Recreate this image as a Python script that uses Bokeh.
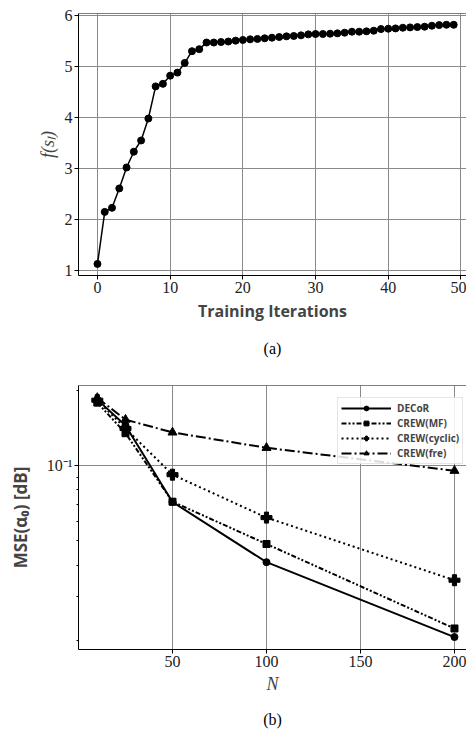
from bokeh.plotting import figure
from bokeh.layouts import column
from bokeh.models import Range1d, FixedTicker, Title, Legend, LegendItem, Span
from bokeh.embed import file_html
from bokeh.resources import INLINE

# ---------------- Panel (a) data ----------------
iterations = list(range(50))
f_values = [1.13, 2.15, 2.23, 2.61, 3.02, 3.33, 3.55, 3.98, 4.61, 4.66,
            4.82, 4.88, 5.07, 5.30, 5.34, 5.47, 5.47, 5.48, 5.49, 5.507,
            5.520, 5.533, 5.540, 5.553, 5.565, 5.578, 5.591, 5.598, 5.611, 5.630,
            5.637, 5.637, 5.643, 5.650, 5.663, 5.682, 5.682, 5.689, 5.702, 5.734,
            5.741, 5.747, 5.760, 5.767, 5.773, 5.780, 5.799, 5.812, 5.818, 5.818]
a_xticks = [0, 10, 20, 30, 40, 50]
a_yticks = [1, 2, 3, 4, 5, 6]

# ---------------- Panel (b) data ----------------
N_values = [10, 25, 50, 100, 200]
mse_decor = [0.184, 0.145, 0.0716, 0.0411, 0.0206]
mse_crew_mf = [0.179, 0.135, 0.0718, 0.0486, 0.0223]
mse_crew_cyclic = [0.183, 0.141, 0.0921, 0.0620, 0.0348]
mse_crew_fre = [0.187, 0.153, 0.136, 0.118, 0.0955]
b_xticks = [50, 100, 150, 200]
b_yticks = [0.1]
b_yminor = [0.02, 0.03, 0.04, 0.05, 0.06, 0.07, 0.08, 0.09, 0.2]
series_names = ["DECoR", "CREW(MF)", "CREW(cyclic)", "CREW(fre)"]

SERIF = "Liberation Serif"
SANS = "Open Sans"
GRID = "#8a8a8a"


def style_axes(p):
    for ax in (p.xaxis[0], p.yaxis[0]):
        ax.axis_line_color = "black"
        ax.axis_line_width = 1
        ax.major_tick_line_color = "black"
        ax.major_tick_out = 4
        ax.major_tick_in = 0
        ax.minor_tick_line_color = None
        ax.major_label_text_font = SERIF
        ax.major_label_text_font_size = "16px"
        ax.major_label_text_color = "#222222"
        ax.major_label_standoff = 2
        ax.axis_label_standoff = 4
    p.xgrid.grid_line_color = GRID
    p.ygrid.grid_line_color = GRID
    p.xgrid.grid_line_width = 1
    p.ygrid.grid_line_width = 1
    p.outline_line_color = None


# ---------------- Figure (a) ----------------
ya0, ya1 = 0.903, 6.039
p1 = figure(width=466, height=369, x_range=Range1d(-2.61, 50.76), y_range=Range1d(ya0, ya1),
            output_backend="svg", toolbar_location=None,
            min_border_left=78, min_border_right=0, min_border_top=13, min_border_bottom=92)
style_axes(p1)
p1.xaxis.ticker = FixedTicker(ticks=a_xticks)
p1.yaxis.ticker = FixedTicker(ticks=a_yticks)
p1.xaxis.axis_label = "Training Iterations"
p1.xaxis.axis_label_text_font = SANS
p1.xaxis.axis_label_text_font_style = "bold"
p1.xaxis.axis_label_text_font_size = "16px"
p1.yaxis.axis_label = "f(sₗ)"
p1.yaxis.axis_label_text_font = SERIF
p1.yaxis.axis_label_text_font_style = "italic"
p1.yaxis.axis_label_text_font_size = "18px"
p1.add_layout(Span(location=ya1, dimension="width", line_color="black", line_width=1))

p1.line(iterations, f_values, line_color="black", line_width=1.5)
p1.scatter(iterations, f_values, marker="circle", size=7, color="black")

cap_a = Title(text="(a)", align="center", text_font=SERIF, text_font_size="16px",
              text_font_style="normal", text_color="black", standoff=26)
p1.add_layout(cap_a, "below")

# ---------------- Figure (b) ----------------
yb0, yb1 = 0.01837, 0.2096
p2 = figure(width=466, height=371, x_range=Range1d(0, 206.4), y_range=Range1d(yb0, yb1),
            y_axis_type="log", output_backend="svg", toolbar_location=None,
            min_border_left=78, min_border_right=0, min_border_top=16, min_border_bottom=88)
style_axes(p2)
p2.xaxis.ticker = FixedTicker(ticks=b_xticks)
p2.yaxis.ticker = FixedTicker(ticks=b_yticks, minor_ticks=b_yminor)
p2.yaxis.major_label_overrides = {0.1: "10⁻¹"}
p2.yaxis.minor_tick_line_color = "black"
p2.yaxis.minor_tick_out = 2
p2.yaxis.minor_tick_in = 0
p2.yaxis.axis_label_standoff = 12
p2.xaxis.axis_label = "N"
p2.xaxis.axis_label_text_font = SERIF
p2.xaxis.axis_label_text_font_style = "italic"
p2.xaxis.axis_label_text_font_size = "18px"
p2.yaxis.axis_label = "MSE(α₀) [dB]"
p2.yaxis.axis_label_text_font = SANS
p2.yaxis.axis_label_text_font_style = "bold"
p2.yaxis.axis_label_text_font_size = "17px"
p2.add_layout(Span(location=yb1, dimension="width", line_color="black", line_width=1))

styles = [
    (mse_decor, "solid", "circle", 7),
    (mse_crew_mf, "5 2 2 2 2 2", "square", 7),
    (mse_crew_cyclic, "2 3", "plus", 11),
    (mse_crew_fre, "10 3 2 3", "triangle", 9),
]
items = []
for name, (vals, dash, marker, size) in zip(series_names, styles):
    r_line = p2.line(N_values, vals, line_color="black", line_width=2, line_dash=dash)
    r_mark = p2.scatter(N_values, vals, marker=marker, size=size, color="black")
    items.append(LegendItem(label=name, renderers=[r_line, r_mark]))

legend = Legend(items=items, location=(259, 185),
                label_text_font=SANS, label_text_font_style="bold", label_text_font_size="10px",
                glyph_width=50, glyph_height=12, label_height=12, spacing=1, padding=3, margin=0,
                label_standoff=6, border_line_color="#cccccc", border_line_width=1,
                background_fill_alpha=0.85)
p2.add_layout(legend)

cap_b = Title(text="(b)", align="center", text_font=SERIF, text_font_size="16px",
              text_font_style="normal", text_color="black", standoff=25)
p2.add_layout(cap_b, "below")

layout = column(p1, p2)
open("out.html", "w").write(file_html(layout, INLINE))
